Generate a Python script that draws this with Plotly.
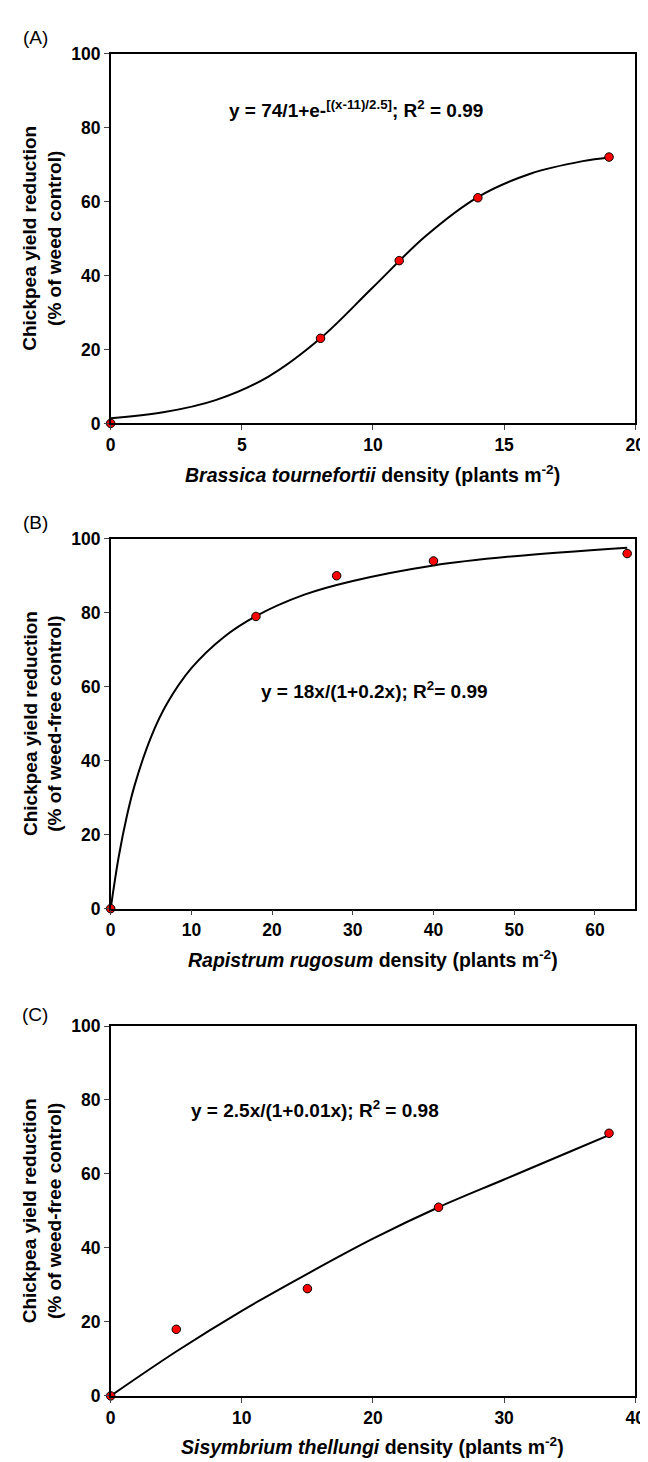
import plotly.graph_objects as go

W, H = 648, 1462

# ---- data ----
a_x = [0, 8, 11, 14, 19]
a_y = [0, 23, 44, 61, 72]
a_fit_x = [0, 2, 4, 6, 8, 10, 12, 14, 16, 18, 19]
a_fit_y = [1.4, 3.0, 6.3, 12.6, 23.0, 36.8, 50.6, 61.2, 67.5, 70.9, 71.9]

b_x = [0, 18, 28, 40, 64]
b_y = [0, 79, 90, 94, 96]
b_fit_x = [0, 1, 2, 3, 5, 7, 10, 14, 18, 24, 30, 40, 50, 64]
b_fit_y = [0, 14.1, 25.0, 33.6, 46.4, 55.5, 65.0, 73.4, 79.1, 84.9, 88.6, 92.8, 95.3, 97.6]

c_x = [0, 5, 15, 25, 38]
c_y = [0, 18, 29, 51, 71]
c_fit_x = [0, 5, 10, 15, 20, 25, 30, 35, 38]
c_fit_y = [0, 12, 23, 33, 42.5, 51, 58.5, 66, 70.5]

x_ranges = [[0, 20], [0, 65], [0, 40]]
x_ticks = [[0, 5, 10, 15, 20], [0, 10, 20, 30, 40, 50, 60], [0, 10, 20, 30, 40]]
y_ticks = [0, 20, 40, 60, 80, 100]

panel_labels = ["(A)", "(B)", "(C)"]
y_titles = ["Chickpea yield reduction<br>(% of weed control)",
            "Chickpea yield reduction<br>(% of weed-free control)",
            "Chickpea yield reduction<br>(% of weed-free control)"]
x_titles = ["<i>Brassica tournefortii</i> density (plants m<sup>-2</sup>)",
            "<i>Rapistrum rugosum</i> density (plants m<sup>-2</sup>)",
            "<i>Sisymbrium thellungi</i> density (plants m<sup>-2</sup>)"]
equations = ["y = 74/1+e-<sup>[(x-11)/2.5]</sup>; R<sup>2</sup> = 0.99",
             "y = 18x/(1+0.2x); R<sup>2</sup>= 0.99",
             "y = 2.5x/(1+0.01x); R<sup>2</sup> = 0.98"]
eq_pos = [(9.35, 85.0), (32.7, 59.0), (15.6, 77.5)]

# ---- layout geometry (pixels) ----
left, right = 100, 637
tops = [36, 528, 1022]
bottoms = [411, 903, 1397]
label_offsets = [16, 16, 12]

def py(p):
    return 1 - p / H

def px(p):
    return p / W

FONT = "Arial, Liberation Sans, sans-serif"
fig = go.Figure()

series = [(a_x, a_y, a_fit_x, a_fit_y), (b_x, b_y, b_fit_x, b_fit_y), (c_x, c_y, c_fit_x, c_fit_y)]
layout = {}
annotations = []
for i, (sx, sy, fx, fy) in enumerate(series):
    n = "" if i == 0 else str(i + 1)
    xa, ya = "x" + n, "y" + n
    fig.add_trace(go.Scatter(x=fx, y=fy, mode="lines",
                             line=dict(color="black", width=2, shape="spline", smoothing=1.0),
                             xaxis=xa, yaxis=ya, showlegend=False, hoverinfo="skip", cliponaxis=False))
    fig.add_trace(go.Scatter(x=sx, y=sy, mode="markers",
                             marker=dict(color="#ff0000", size=8.5, line=dict(color="black", width=1)),
                             xaxis=xa, yaxis=ya, showlegend=False, cliponaxis=False))
    tick_font = dict(family=FONT, size=17.5, color="black", weight="bold")
    layout["xaxis" + n] = dict(domain=[px(left), px(right)], anchor=ya, range=x_ranges[i],
                               tickvals=x_ticks[i], ticks="outside", ticklen=5, tickwidth=1.2,
                               showline=True, linecolor="black", linewidth=1.5, mirror=True,
                               showgrid=False, zeroline=False, tickfont=tick_font)
    layout["yaxis" + n] = dict(domain=[py(bottoms[i]), py(tops[i])], anchor=xa, range=[0, 100],
                               tickvals=y_ticks, ticks="outside", ticklen=5, tickwidth=1.2,
                               showline=True, linecolor="black", linewidth=1.5, mirror=True,
                               showgrid=False, zeroline=False, tickfont=tick_font)
    # panel label
    annotations.append(dict(text=panel_labels[i], x=px(23), y=py(tops[i] - label_offsets[i]),
                            xref="paper", yref="paper", showarrow=False,
                            xanchor="center", yanchor="middle",
                            font=dict(family=FONT, size=19, color="black")))
    # y title
    annotations.append(dict(text="<b>" + y_titles[i] + "</b>", x=px(30), y=py((tops[i] + bottoms[i]) / 2),
                            xref="paper", yref="paper", showarrow=False, textangle=-90,
                            xanchor="center", yanchor="middle",
                            font=dict(family=FONT, size=19, color="black")))
    # x title
    annotations.append(dict(text="<b>" + x_titles[i] + "</b>", x=px((left + right) / 2),
                            y=py(bottoms[i] + 51), xref="paper", yref="paper", showarrow=False,
                            xanchor="center", yanchor="middle",
                            font=dict(family=FONT, size=19.5, color="black")))
    # equation
    annotations.append(dict(text="<b>" + equations[i] + "</b>", x=eq_pos[i][0], y=eq_pos[i][1],
                            xref=xa, yref=ya, showarrow=False, xanchor="center", yanchor="middle",
                            font=dict(family=FONT, size=19, color="black")))

fig.update_layout(width=W, height=H, margin=dict(l=0, r=0, t=0, b=0),
                  plot_bgcolor="white", paper_bgcolor="white",
                  annotations=annotations, **layout)
fig.write_html("out.html")
